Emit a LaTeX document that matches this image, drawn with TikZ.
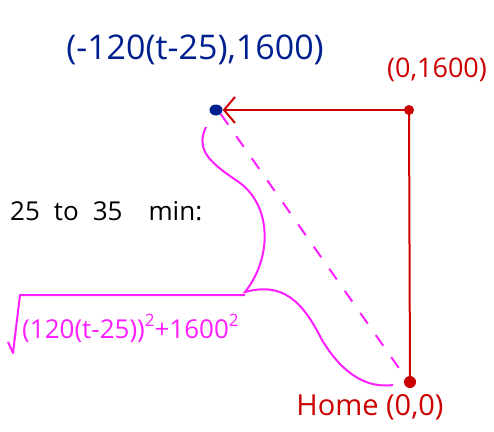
\documentclass[tikz,border=0pt]{standalone}
\usepackage{fontspec}
\setmainfont{Open Sans}
\usetikzlibrary{arrows.meta,shapes.geometric}
\definecolor{hred}{HTML}{CC0000}
\definecolor{hblue}{HTML}{00208F}
\definecolor{hpink}{HTML}{FF1EFF}
\begin{document}
\begin{tikzpicture}[x=1pt,y=-1pt,
  dotn/.style={circle,inner sep=0pt,minimum size=11pt},
  lbl/.style={inner sep=0pt,font=\fontsize{34}{38}\selectfont},
  redline/.style={hred,line width=2pt},
  pinkline/.style={hpink,line width=2pt}]
\useasboundingbox (0,0) rectangle (494,431);
\node[ellipse,inner sep=0pt,fill=hblue,minimum width=13pt,minimum height=11pt] (b) at (216,110) {};
\node[dotn,fill=hred,minimum size=10pt] (c) at (409,110) {};
\node[dotn,fill=hred,minimum size=12pt] (h) at (410,382) {};
\draw[redline,-{Straight Barb[length=11pt,width=26pt]}] (c.center) -- (b.east);
\draw[redline] (c.center) -- (h.center);
\draw[pinkline,dashed,dash pattern=on 13pt off 14pt] (b.south east) -- (h.north west);
\draw[pinkline] (206,127) .. controls (194,152) and (214,165) .. (240,183)
  .. controls (272,207) and (272,258) .. (245,292)
  .. controls (282,282) and (302,300) .. (322,340)
  .. controls (345,378) and (370,388) .. (393,385);
\node[lbl,hblue] (bl) at (195,50) {(-120(t-25),1600)};
\node[lbl,hred,font=\fontsize{27}{30}\selectfont] (cl) at (437,70) {(0,1600)};
\node[lbl,hred,font=\fontsize{29}{32}\selectfont] (hl) at (370,407) {Home (0,0)};
\node[lbl,black,font=\fontsize{26}{30}\selectfont,anchor=west] (tl) at (10,211) {25\hspace{14pt}to\hspace{14pt}35\hspace{26pt}min:};
\node[inner sep=0pt,hpink,anchor=base west,font=\fontsize{26}{30}\selectfont] (sq) at (22,338) {(120(t-25))\raisebox{0.45em}{\fontsize{17}{18}\selectfont 2}+1600\raisebox{0.45em}{\fontsize{17}{18}\selectfont 2}};
\coordinate (rs) at (8,342);
\coordinate (rb) at (13,353);
\coordinate (rt) at (20,295);
\coordinate (re) at (245,295);
\draw[pinkline,line join=round] (rs) -- (rb) -- (rt) -- (re);
\end{tikzpicture}
\end{document}
